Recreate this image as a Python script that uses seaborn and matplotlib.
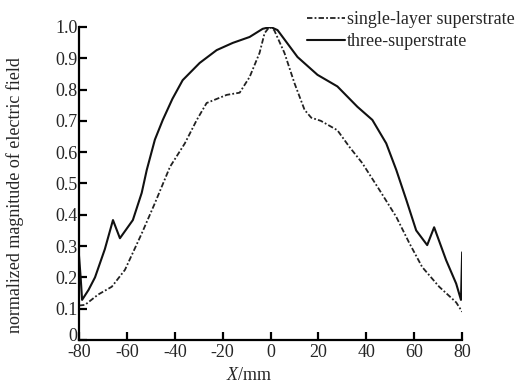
import numpy as np
import pandas as pd
import matplotlib
matplotlib.use("Agg")
import matplotlib.pyplot as plt
import matplotlib.transforms as mtransforms
import seaborn as sns

# three-superstrate (solid)
three_x = [-80, -79.3, -78.7, -76, -73.3, -69.2, -65.8, -62.9, -57.5, -53.8,
           -51.7, -48.3, -45, -41, -36.7, -29.6, -22.5, -15.8, -8.75, -3.3,
           0, 2.9, 11.25, 19.6, 27.9, 36.25, 42.5, 48.3, 52.5, 56.7, 60.8,
           65.4, 68.3, 73.3, 77.5, 79.5, 80]
three_y = [0.27, 0.2, 0.128, 0.16, 0.2, 0.29, 0.383, 0.325, 0.383, 0.47,
           0.543, 0.64, 0.703, 0.77, 0.83, 0.885, 0.926, 0.949, 0.968, 0.994,
           1.0, 0.99, 0.904, 0.847, 0.81, 0.745, 0.703, 0.628, 0.543, 0.447, 0.35,
           0.303, 0.36, 0.255, 0.18, 0.128, 0.28]

# single-layer superstrate (dash-dot)
single_x = [-80, -77.5, -72, -66.3, -60.8, -53.8, -48.3, -42, -35.8, -30.8,
            -26.7, -18.3, -12.9, -8.75, -4.6, -2.5, -0.5, 1.5, 5.8, 10, 14.2,
            17, 21, 27.9, 32.9, 38.3, 45.4, 52.5, 57.9, 63.3, 70.4, 77.5, 80]
single_y = [0.11, 0.112, 0.145, 0.17, 0.224, 0.34, 0.437, 0.553, 0.628, 0.703,
            0.757, 0.783, 0.79, 0.84, 0.917, 0.98, 1.0, 0.99, 0.917, 0.82, 0.735,
            0.71, 0.70, 0.67, 0.617, 0.565, 0.48, 0.393, 0.31, 0.233, 0.17, 0.12, 0.09]

x_ticks = [-80, -60, -40, -20, 0, 20, 40, 60, 80]
y_ticks = [0, 0.1, 0.2, 0.3, 0.4, 0.5, 0.6, 0.7, 0.8, 0.9, 1.0]
y_ticklabels = ['0', '0.1', '0.2', '0.3', '0.4', '0.5', '0.6', '0.7', '0.8', '0.9', '1.0']

sns.set_theme(style='ticks')
plt.rcParams['font.family'] = ['Liberation Serif', 'DejaVu Serif']
plt.rcParams['mathtext.fontset'] = 'custom'
plt.rcParams['mathtext.it'] = 'Liberation Serif:italic'
plt.rcParams['mathtext.rm'] = 'Liberation Serif'

df_single = pd.DataFrame({'x': single_x, 'y': single_y})
df_three = pd.DataFrame({'x': three_x, 'y': three_y})

fig = plt.figure(figsize=(5.3, 3.85), dpi=100)
ax = fig.add_axes([0.149, 0.117, 0.723, 0.813])

sns.lineplot(data=df_single, x='x', y='y', sort=False, ax=ax, color='#222222',
             linewidth=1.3, linestyle=(0, (3, 1.2, 1, 1.2)),
             label='single-layer superstrate')
sns.lineplot(data=df_three, x='x', y='y', sort=False, ax=ax, color='#111111',
             linewidth=1.5, label='three-superstrate')

ax.set_xlim(-80, 80)
ax.set_ylim(0, 1.0)
ax.set_xticks(x_ticks)
ax.set_xticklabels([str(t) for t in x_ticks])
ax.set_yticks(y_ticks)
ax.set_yticklabels(y_ticklabels)
ax.tick_params(direction='in', length=6, width=1.6, labelsize=13, pad=1, color='black')
ax.tick_params(axis='x', pad=3)
for side in ['top', 'right']:
    ax.spines[side].set_visible(False)
for side in ['left', 'bottom']:
    ax.spines[side].set_linewidth(1.6)
    ax.spines[side].set_color('black')

# nudge the "0" label up a little so it clears "-80"
zero_lbl = ax.get_yticklabels()[0]
zero_lbl.set_transform(zero_lbl.get_transform() +
                       mtransforms.ScaledTranslation(0, 4 / 72, fig.dpi_scale_trans))

ax.set_xlabel(r'$X$/mm', fontsize=13)
ax.xaxis.set_label_coords(0.444, -0.085)
ax.set_ylabel('normalized magnitude of electric field', fontsize=13)
ax.yaxis.set_label_coords(-0.143, 0.463)

ax.get_legend().remove()
handles, labels = ax.get_legend_handles_labels()
fig.legend(handles, labels, loc='upper left', bbox_to_anchor=(0.565, 0.99),
           frameon=False, fontsize=13, handlelength=2.1, handletextpad=0.15,
           labelspacing=0.3, borderaxespad=0.2, borderpad=0.2)

fig.savefig('out.png', dpi=100)
